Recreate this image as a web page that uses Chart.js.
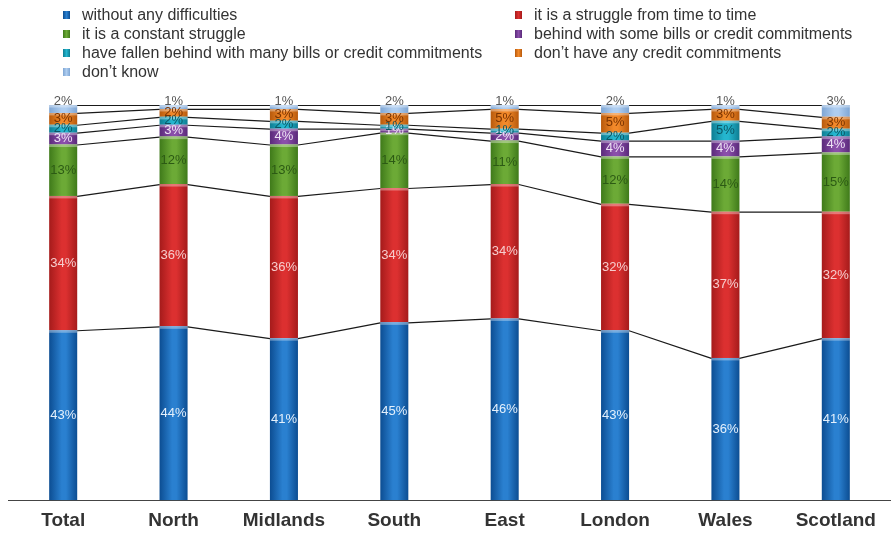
<!DOCTYPE html>
<html>
<head>
<meta charset="utf-8">
<script src="https://cdn.jsdelivr.net/npm/chart.js@4/dist/chart.umd.min.js"></script>
<style>
  html, body { margin: 0; padding: 0; background: #fff; }
  #wrap { position: relative; width: 891px; height: 536px; }
  #chart { position: absolute; left: 0; top: 0; }
  #legend {
    position: absolute; left: 0; top: 5px; width: 891px;
    font-family: "Liberation Sans", Arial, sans-serif; font-size: 16px; color: #333;
  }
  .item { position: absolute; height: 19px; line-height: 19px; white-space: nowrap; }
  .item i {
    position: absolute; left: -19px; top: 6px; width: 7px; height: 8px;
  }
</style>
</head>
<body>
<div id="wrap">
  <canvas id="chart" width="891" height="536"></canvas>
  <div id="legend"></div>
</div>
<script>
  const regions = ["Total", "North", "Midlands", "South", "East", "London", "Wales", "Scotland"];

  const seriesNames = [
    "without any difficulties",
    "it is a struggle from time to time",
    "it is a constant struggle",
    "behind with some bills or credit commitments",
    "have fallen behind with many bills or credit commitments",
    "don\u2019t have any credit commitments",
    "don\u2019t know"
  ];

  const withoutDifficulties = [43, 44, 41, 45, 46, 43, 36, 41];
  const struggleSometimes   = [34, 36, 36, 34, 34, 32, 37, 32];
  const constantStruggle    = [13, 12, 13, 14, 11, 12, 14, 15];
  const behindSome          = [3, 3, 4, 1, 2, 4, 4, 4];
  const behindMany          = [2, 2, 2, 1, 1, 2, 5, 2];
  const noCommitments       = [3, 2, 3, 3, 5, 5, 3, 3];
  const dontKnow            = [2, 1, 1, 2, 1, 2, 1, 3];

  const seriesValues = [withoutDifficulties, struggleSometimes, constantStruggle,
                        behindSome, behindMany, noCommitments, dontKnow];

  // base / edge shades for the cylinder look, plus label colour per series
  const baseColors  = ["#2a80d0", "#dc3030", "#6caa36", "#8a4eaa", "#24b6cf", "#f2892a", "#aecdf0"];
  const edgeColors  = ["#0c4d92", "#a51b1b", "#3f7a1a", "#5a2a7a", "#0e7d92", "#b85a0c", "#7fa6d4"];
  const labelColors = ["#e4f0fc", "#f6cdcd", "#2c5a14", "#eee3f5", "#0a5664", "#7a3300", "#555555"];

  // legend: two columns, row-major
  const legend = document.getElementById("legend");
  seriesNames.forEach((name, i) => {
    const div = document.createElement("div");
    div.className = "item";
    div.style.left = (i % 2 === 0 ? 82 : 534) + "px";
    div.style.top = (Math.floor(i / 2) * 19) + "px";
    div.innerHTML = `<i style="background:linear-gradient(90deg, ${edgeColors[i]}, ${baseColors[i]} 50%, ${edgeColors[i]})"></i>${name}`;
    legend.appendChild(div);
  });

  const BAR_FRACTION = 0.254;

  function barFill(i) {
    return (ctx) => {
      const chart = ctx.chart;
      const area = chart.chartArea;
      if (!area || !chart.scales.x) return baseColors[i];
      const x = chart.scales.x.getPixelForValue(ctx.dataIndex);
      const half = (area.width / regions.length) * BAR_FRACTION / 2;
      const g = chart.ctx.createLinearGradient(x - half, 0, x + half, 0);
      g.addColorStop(0, edgeColors[i]);
      g.addColorStop(0.45, baseColors[i]);
      g.addColorStop(0.6, baseColors[i]);
      g.addColorStop(1, edgeColors[i]);
      return g;
    };
  }

  // series lines between bars, segment highlights and value labels
  const decorations = {
    id: "decorations",
    afterDatasetsDraw(chart) {
      const c = chart.ctx;
      c.save();

      // light band along the top of every segment
      chart.data.datasets.forEach((ds, i) => {
        chart.getDatasetMeta(i).data.forEach((bar) => {
          const p = bar.getProps(["x", "y", "width"], true);
          c.fillStyle = "rgba(255,255,255,0.35)";
          c.fillRect(p.x - p.width / 2, p.y, p.width, 2.5);
        });
      });

      // connector lines from one bar's segment top to the next
      c.strokeStyle = "#1a1a1a";
      c.lineWidth = 1.2;
      chart.data.datasets.forEach((ds, i) => {
        const bars = chart.getDatasetMeta(i).data;
        for (let j = 0; j < bars.length - 1; j++) {
          const a = bars[j].getProps(["x", "y", "width"], true);
          const b = bars[j + 1].getProps(["x", "y", "width"], true);
          c.beginPath();
          c.moveTo(a.x + a.width / 2, a.y + 0.5);
          c.lineTo(b.x - b.width / 2, b.y + 0.5);
          c.stroke();
        }
      });

      // percentage labels
      c.font = "13px 'Liberation Sans', Arial, sans-serif";
      c.textAlign = "center";
      c.textBaseline = "middle";
      const last = chart.data.datasets.length - 1;
      chart.data.datasets.forEach((ds, i) => {
        chart.getDatasetMeta(i).data.forEach((bar, j) => {
          const p = bar.getProps(["x", "y", "base"], true);
          const y = i === last ? p.y - 4 : (p.y + p.base) / 2;
          c.fillStyle = labelColors[i];
          c.fillText(ds.data[j] + "%", p.x, y);
        });
      });
      c.restore();
    }
  };

  new Chart(document.getElementById("chart"), {
    type: "bar",
    data: {
      labels: regions,
      datasets: seriesValues.map((values, i) => ({
        label: seriesNames[i],
        data: values,
        backgroundColor: barFill(i),
        borderWidth: 0,
        barPercentage: 1,
        categoryPercentage: BAR_FRACTION
      }))
    },
    options: {
      responsive: false,
      animation: false,
      layout: { padding: { left: 8, right: 0, top: 105, bottom: -5 } },
      plugins: {
        legend: { display: false },
        tooltip: { enabled: false }
      },
      scales: {
        x: {
          stacked: true,
          grid: { display: false, drawTicks: false },
          border: { display: true, color: "#444", width: 1 },
          ticks: {
            padding: 9,
            color: "#333",
            font: { family: "'Liberation Sans', Arial, sans-serif", size: 19, weight: "bold" }
          }
        },
        y: {
          stacked: true,
          display: false,
          min: 0,
          max: 100
        }
      }
    },
    plugins: [decorations]
  });
</script>
</body>
</html>
